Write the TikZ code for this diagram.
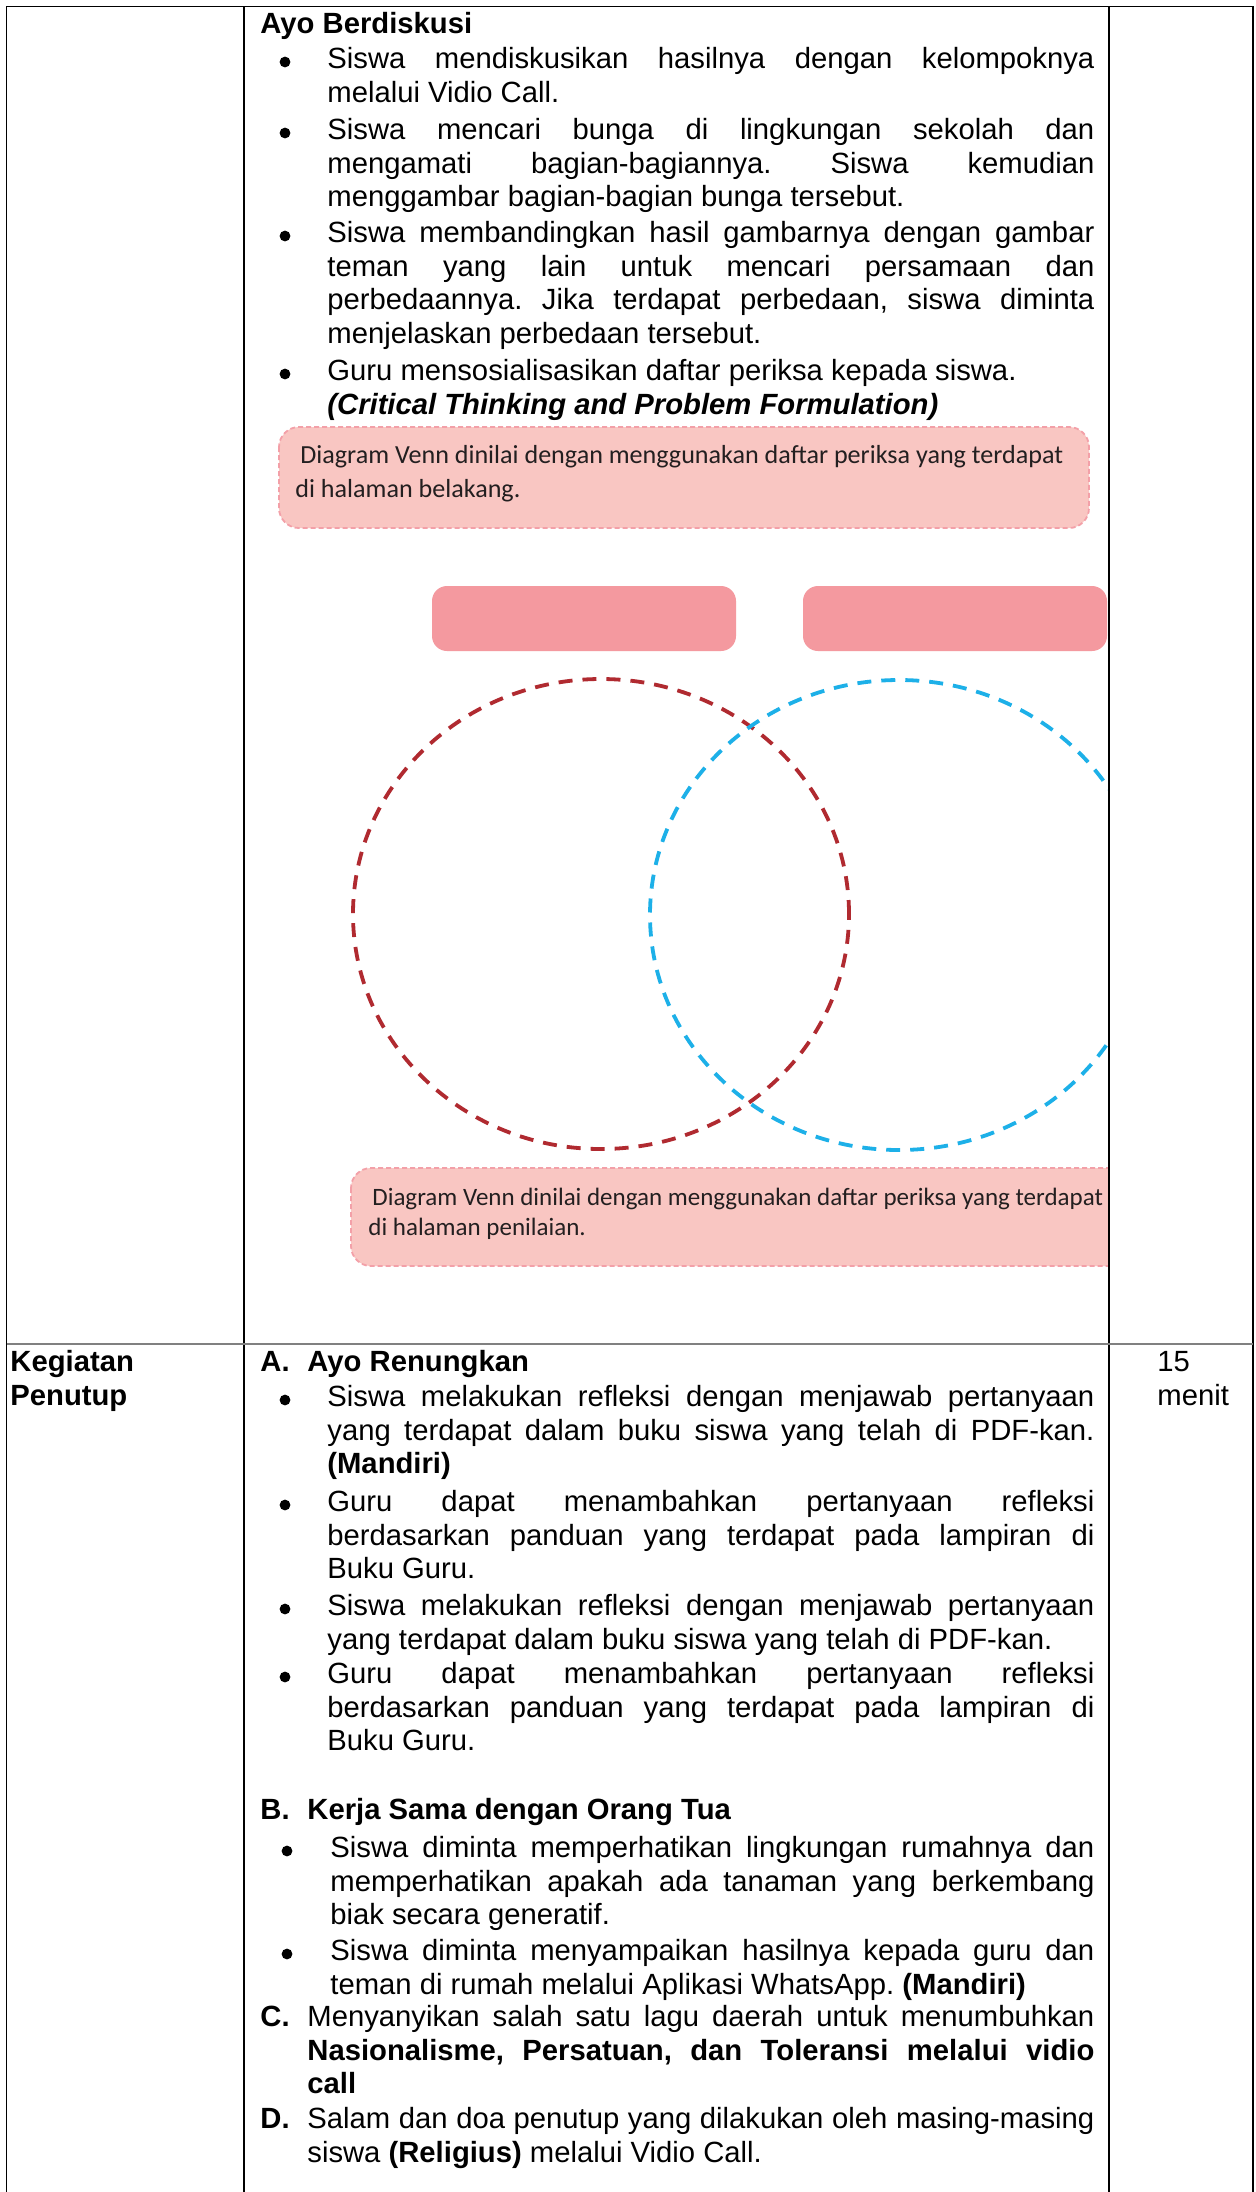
\documentclass[tikz,border=0pt]{standalone}
\usepackage{fontspec}
\setmainfont{Liberation Sans}
\newfontfamily\notefont{Carlito}
\definecolor{notefill}{HTML}{F9C6C2}
\definecolor{noteline}{HTML}{F3A0A8}
\definecolor{tagfill}{HTML}{F4999F}
\definecolor{vennred}{HTML}{B02A30}
\definecolor{vennblue}{HTML}{1DB0E8}
\definecolor{notetext}{HTML}{231F20}
\definecolor{rulegray}{HTML}{808080}
\newcommand\txtsize{\fontsize{14.62pt}{16.85pt}\selectfont}
\hyphenpenalty=10000
\exhyphenpenalty=10000
\frenchspacing
\tikzset{
  para/.style={anchor=north west, yshift=11.8pt, inner sep=0pt, text width=#1, align=justify, font=\txtsize},
  lbl/.style={anchor=base west, inner sep=0pt, font=\txtsize\bfseries},
  bul/.style={circle, fill=black, inner sep=0pt, minimum size=5.4pt},
  notetxt/.style={anchor=base west, inner sep=0pt, text=notetext, font=\notefont\fontsize{#1}{17pt}\selectfont},
  notebox/.style={fill=notefill, draw=noteline, line width=0.9pt, dash pattern=on 2.5pt off 1.5pt, rounded corners=10pt},
  tagbox/.style={fill=tagfill, rounded corners=7.5pt},
  venn/.style={line width=1.9pt, dash pattern=on 7pt off 5pt}
}
\begin{document}
\begin{tikzpicture}[x=0.5pt,y=-0.5pt]
\path[use as bounding box, fill=white] (0,0) rectangle (1256,2192);

\node[lbl] (ayo) at (260,33) {Ayo Berdiskusi};
\node[bul] (d1) at (285,62) {};
\node[para=383.5pt] (p1) at (327,68) {\strut Siswa mendiskusikan hasilnya dengan kelompoknya \linebreak melalui Vidio Call.};
\node[bul] (d2) at (285,133) {};
\node[para=383.5pt] (p2) at (327,139) {\strut Siswa mencari bunga di lingkungan sekolah dan \linebreak mengamati bagian-bagiannya. Siswa kemudian \linebreak menggambar bagian-bagian bunga tersebut.};
\node[bul] (d3) at (285,236) {};
\node[para=383.5pt] (p3) at (327,242) {\strut Siswa membandingkan hasil gambarnya dengan gambar \linebreak teman yang lain untuk mencari persamaan dan \linebreak perbedaannya. Jika terdapat perbedaan, siswa diminta \linebreak menjelaskan perbedaan tersebut.};
\node[bul] (d4) at (285,374) {};
\node[para=383.5pt] (p4) at (327,380) {\strut Guru mensosialisasikan daftar periksa kepada siswa.\newline \textbf{\textit{(Critical Thinking and Problem Formulation)}}};

\draw[notebox] (279,427) rectangle (1089,528);
\node[notetxt=13.05pt] (n1) at (300,463) {Diagram Venn dinilai dengan menggunakan daftar periksa yang terdapat};
\node[notetxt=13.05pt] (n2) at (295,497) {di halaman belakang.};
\fill[tagbox] (432,586) rectangle (736,651);
\fill[tagbox] (803,586) rectangle (1107,651);
\draw[venn, vennred] (601,914) ellipse [x radius=124pt, y radius=117.5pt];
\begin{scope}
\clip (0,0) rectangle (1108,2192);
\draw[venn, vennblue] (899,915) ellipse [x radius=124.5pt, y radius=117.5pt];
\draw[notebox] (351,1168) rectangle (1160,1266);
\end{scope}
\node[notetxt=12.5pt] (n3) at (372,1205) {Diagram Venn dinilai dengan menggunakan daftar periksa yang terdapat};
\node[notetxt=12.5pt] (n4) at (368,1235) {di halaman penilaian.};

\node[para=55pt, align=left, font=\txtsize\bfseries] (keg) at (10,1371) {\strut Kegiatan\\Penutup};
\node[para=45pt, align=left] (wkt) at (1157,1371) {\strut 15\\menit};
\node[lbl] (secA) at (260,1371) {\makebox[23.5pt][l]{A.}Ayo Renungkan};
\node[bul] (d5) at (285,1400) {};
\node[para=383.5pt] (a1) at (327,1406) {\strut Siswa melakukan refleksi dengan menjawab pertanyaan \linebreak yang terdapat dalam buku siswa yang telah di PDF-kan. \linebreak \textbf{(Mandiri)}};
\node[bul] (d6) at (285,1505) {};
\node[para=383.5pt] (a2) at (327,1511) {\strut Guru dapat menambahkan pertanyaan refleksi \linebreak berdasarkan panduan yang terdapat pada lampiran di \linebreak Buku Guru.};
\node[bul] (d7) at (285,1609) {};
\node[para=383.5pt] (a3) at (327,1615) {\strut Siswa melakukan refleksi dengan menjawab pertanyaan \linebreak yang terdapat dalam buku siswa yang telah di PDF-kan.};
\node[bul] (d8) at (285,1677) {};
\node[para=383.5pt] (a4) at (327,1683) {\strut Guru dapat menambahkan pertanyaan refleksi \linebreak berdasarkan panduan yang terdapat pada lampiran di \linebreak Buku Guru.};
\node[lbl] (secB) at (260,1819) {\makebox[23.5pt][l]{B.}Kerja Sama dengan Orang Tua};
\node[bul] (d9) at (287,1851) {};
\node[para=382pt] (b1) at (330,1857) {\strut Siswa diminta memperhatikan lingkungan rumahnya dan \linebreak memperhatikan apakah ada tanaman yang berkembang \linebreak biak secara generatif.};
\node[bul] (d10) at (287,1954) {};
\node[para=382pt] (b2) at (330,1960) {\strut Siswa diminta menyampaikan hasilnya kepada guru dan \linebreak teman di rumah melalui Aplikasi WhatsApp. \textbf{(Mandiri)}};
\node[lbl] (secC) at (260,2026) {C.};
\node[para=393.5pt] (c1) at (307,2026) {\strut Menyanyikan salah satu lagu daerah untuk menumbuhkan \linebreak \textbf{Nasionalisme, Persatuan, dan Toleransi melalui vidio \linebreak call}};
\node[lbl] (secD) at (260,2128) {D.};
\node[para=393.5pt] (e1) at (307,2128) {\strut Salam dan doa penutup yang dilakukan oleh masing-masing \linebreak siswa \textbf{(Religius)} melalui Vidio Call.};

\draw[line width=0.8pt] (6.5,2192) -- (6.5,6.5) -- (1253,6.5) -- (1253,2192);
\draw[line width=0.8pt] (244,6.5) -- (244,2192);
\draw[line width=0.8pt] (1109,6.5) -- (1109,2192);
\draw[rulegray, line width=1pt] (6.5,1344) -- (1253,1344);
\end{tikzpicture}
\end{document}
